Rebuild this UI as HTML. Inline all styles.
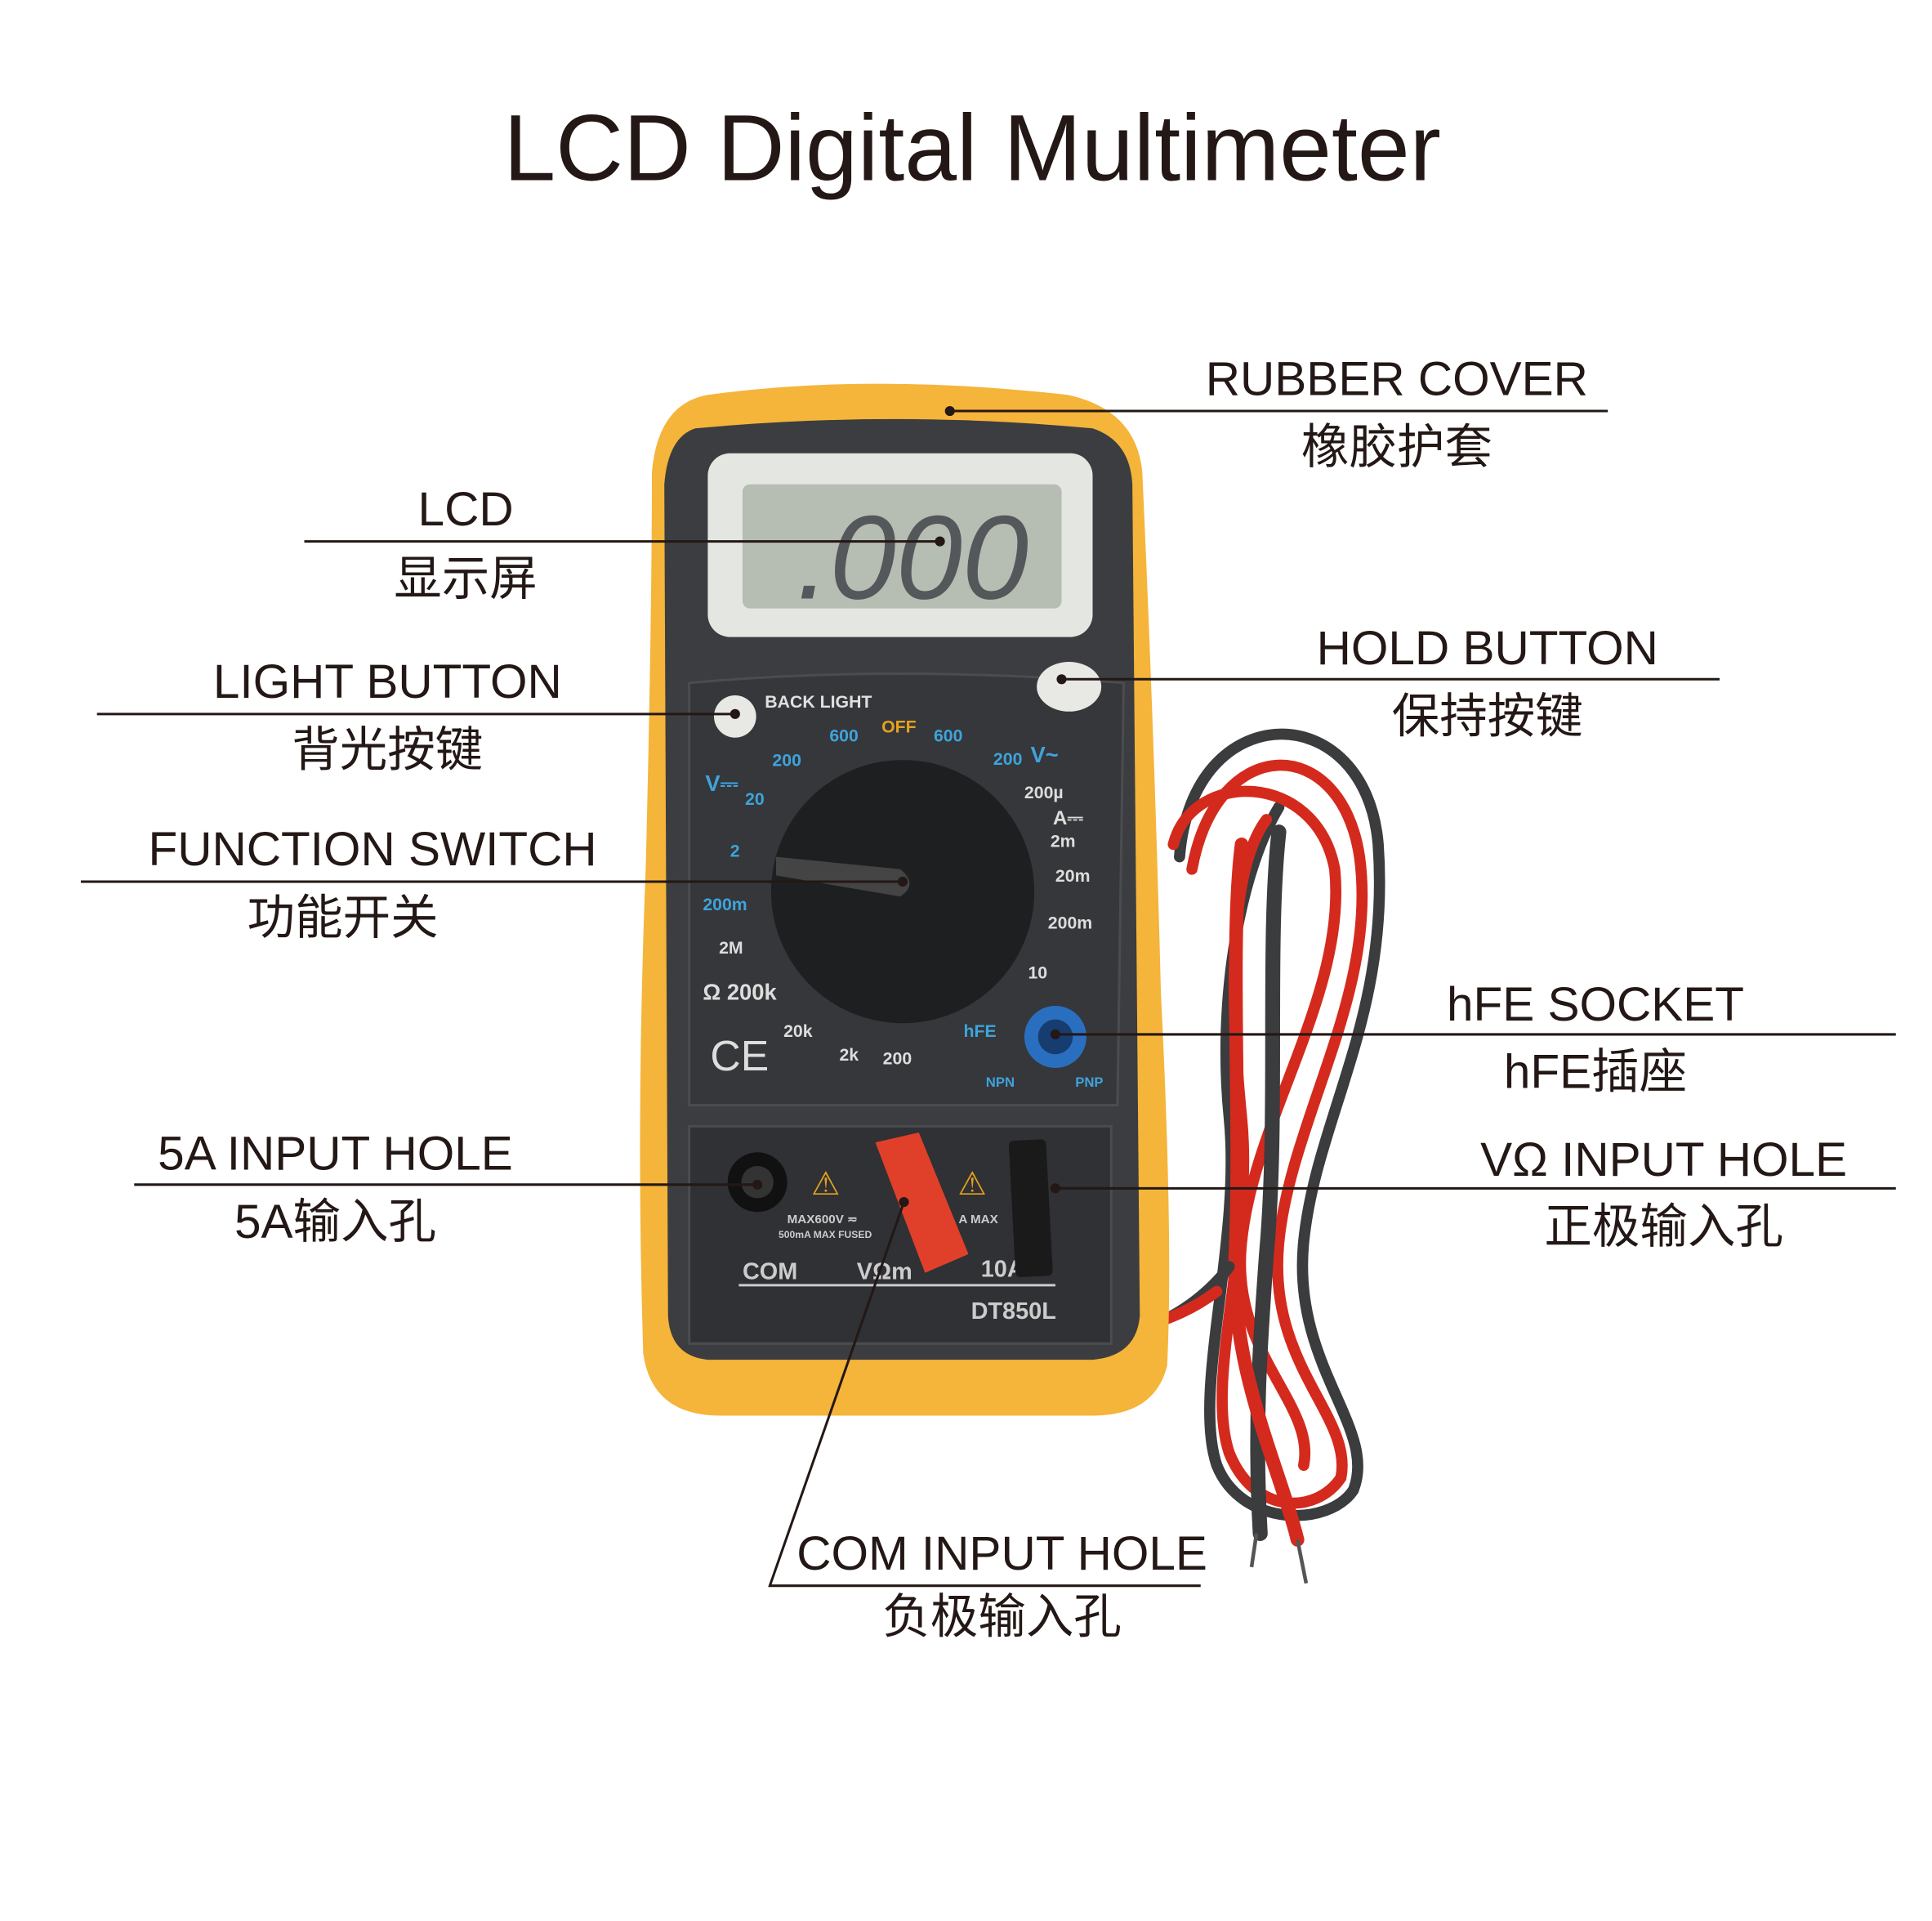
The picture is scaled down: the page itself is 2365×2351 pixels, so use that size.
<!DOCTYPE html>
<html><head><meta charset="utf-8">
<style>
html,body{margin:0;padding:0;background:#fff;}
svg{display:block;}
.t{font-family:"Liberation Sans","Noto Sans CJK SC",sans-serif;fill:#231815;}
</style></head>
<body>
<svg width="2365" height="2351" viewBox="0 0 1556 1547" xmlns="http://www.w3.org/2000/svg">
<rect width="1556" height="1547" fill="#fff"/>
<text class="t" x="783" y="145" font-size="75.5" text-anchor="middle">LCD Digital Multimeter</text>

<g fill="none" stroke-linecap="round">
<path d="M950 690 C 960 560, 1100 560, 1110 680 C 1120 820, 1060 900, 1050 1000 C 1040 1100, 1110 1150, 1090 1200 C 1070 1230, 1000 1230, 980 1180 C 960 1120, 1000 1000, 990 900 C 980 800, 1000 700, 1030 650" stroke="#3a3c3e" stroke-width="9"/>
<path d="M960 700 C 980 590, 1080 590, 1095 690 C 1110 800, 1040 900, 1030 1000 C 1020 1100, 1090 1140, 1080 1190 C 1060 1220, 1010 1220, 990 1170 C 970 1110, 1010 1000, 1000 900 C 990 800, 990 700, 1020 660" stroke="#d42a1e" stroke-width="9"/>
<path d="M945 680 C 960 620, 1060 620, 1075 700 C 1085 800, 1010 900, 1000 1000 C 990 1090, 1060 1130, 1050 1180" stroke="#d42a1e" stroke-width="9"/>
<path d="M1030 670 C 1020 760, 1030 900, 1020 1010 C 1015 1080, 1010 1150, 1015 1235" stroke="#3a3c3e" stroke-width="12"/>
<path d="M1000 680 C 990 760, 1000 900, 995 1010 C 990 1100, 1030 1180, 1045 1240" stroke="#d42a1e" stroke-width="11"/>
<path d="M850 1070 C 900 1090, 960 1060, 990 1020" stroke="#3a3c3e" stroke-width="9"/>
<path d="M740 990 C 760 1080, 900 1100, 980 1040" stroke="#d42a1e" stroke-width="9"/>
</g>
<line x1="1012" y1="1235" x2="1008" y2="1262" stroke="#555" stroke-width="3"/>
<line x1="1045" y1="1240" x2="1052" y2="1275" stroke="#555" stroke-width="3"/>

<path d="M570 318 Q 700 300 860 318 Q 915 330 920 380 Q 930 600 935 800 Q 945 1000 940 1100 Q 930 1140 880 1140 L 580 1140 Q 525 1140 518 1090 Q 512 900 520 700 Q 525 500 525 380 Q 530 325 570 318 Z" fill="#f5b43a"/>
<path d="M560 345 Q 720 330 880 345 Q 910 355 912 390 L 918 1060 Q 915 1092 880 1095 L 570 1095 Q 540 1092 538 1060 L 535 390 Q 538 352 560 345 Z" fill="#3b3d40"/>
<rect x="570" y="365" width="310" height="148" rx="18" fill="#e4e6e2"/>
<rect x="598" y="390" width="257" height="100" rx="6" fill="#b6bdb3"/>
<text x="735" y="482" font-family="Liberation Sans,sans-serif" font-size="96" fill="#55585a" text-anchor="middle" font-style="italic">.000</text>
<path d="M555 550 Q 720 535 905 550 L 900 890 L 555 890 Z" fill="#35373a" stroke="#4a4c4f" stroke-width="2"/>
<circle cx="592" cy="577" r="17" fill="#e8e8e4"/>
<ellipse cx="861" cy="553" rx="26" ry="20" fill="#e8e8e4"/>
<text x="616" y="570" font-family="Liberation Sans,sans-serif" font-size="14" font-weight="bold" fill="#e0e0e0">BACK LIGHT</text>
<circle cx="727" cy="718" r="106" fill="#1e1f21"/>
<path d="M625 690 L 725 700 Q 740 712 725 722 L 625 705 Z" fill="#444"/>
<g font-family="Liberation Sans,sans-serif" font-size="14" font-weight="bold" fill="#3fa3dc">
<text x="668" y="597">600</text><text x="710" y="590" fill="#e6a11e">OFF</text><text x="752" y="597">600</text>
<text x="622" y="617">200</text><text x="800" y="616">200</text><text x="830" y="614" font-size="18">V~</text>
<text x="568" y="637" font-size="18">V⎓</text><text x="600" y="648">20</text>
<text x="825" y="643" fill="#ddd">200µ</text><text x="848" y="664" fill="#ddd" font-size="16">A⎓</text>
<text x="846" y="682" fill="#ddd">2m</text><text x="588" y="690">2</text>
<text x="850" y="710" fill="#ddd">20m</text><text x="566" y="733">200m</text>
<text x="844" y="748" fill="#ddd">200m</text><text x="579" y="768" fill="#ddd">2M</text>
<text x="828" y="788" fill="#ddd">10</text><text x="566" y="805" fill="#ddd" font-size="18">Ω 200k</text>
<text x="631" y="835" fill="#ddd">20k</text><text x="676" y="854" fill="#ddd">2k</text>
<text x="711" y="857" fill="#ddd">200</text><text x="776" y="835">hFE</text>
<text x="794" y="875" font-size="11">NPN</text><text x="866" y="875" font-size="11">PNP</text>
</g>
<text x="572" y="862" font-family="Liberation Sans,sans-serif" font-size="34" fill="#ddd">CE</text>
<circle cx="850" cy="835" r="25" fill="#2a6fbf"/>
<circle cx="850" cy="835" r="14" fill="#173c70"/>
<rect x="555" y="907" width="340" height="175" fill="#2f3134" stroke="#4a4c4f" stroke-width="2"/>
<circle cx="610" cy="952" r="24" fill="#111"/>
<circle cx="610" cy="952" r="13" fill="#333"/>
<text x="665" y="962" font-size="26" fill="#e6a11e" text-anchor="middle">⚠</text>
<text x="783" y="962" font-size="26" fill="#e6a11e" text-anchor="middle">⚠</text>
<g font-family="Liberation Sans,sans-serif" font-weight="bold" fill="#ccc">
<text x="634" y="985" font-size="10">MAX600V ≂</text>
<text x="627" y="997" font-size="8">500mA MAX FUSED</text>
<text x="772" y="985" font-size="10">A MAX</text>
<text x="598" y="1030" font-size="19">COM</text>
<text x="690" y="1030" font-size="19">VΩm</text>
<text x="790" y="1028" font-size="19">10A</text>
<text x="782" y="1062" font-size="19">DT850L</text>
</g>
<line x1="595" y1="1035" x2="850" y2="1035" stroke="#ccc" stroke-width="2"/>
<rect x="815" y="918" width="30" height="110" rx="4" fill="#1a1a1a" transform="rotate(-3 830 970)"/>
<path d="M705 920 L 740 912 L 780 1010 L 745 1025 Z" fill="#e0402a"/>

<g stroke="#231815" stroke-width="2" fill="none">
<line x1="765" y1="331" x2="1295" y2="331"/>
<line x1="245" y1="436" x2="757" y2="436"/>
<line x1="855" y1="547" x2="1385" y2="547"/>
<line x1="78" y1="575" x2="592" y2="575"/>
<line x1="65" y1="710" x2="727" y2="710"/>
<line x1="850" y1="833" x2="1527" y2="833"/>
<line x1="108" y1="954" x2="610" y2="954"/>
<line x1="850" y1="957" x2="1527" y2="957"/>
<polyline points="728,968 620,1277 967,1277"/>
</g>
<g fill="#231815">
<circle cx="765" cy="331" r="4"/><circle cx="757" cy="436" r="4"/><circle cx="855" cy="547" r="4"/>
<circle cx="592" cy="575" r="4"/><circle cx="727" cy="710" r="4"/><circle cx="850" cy="833" r="4"/>
<circle cx="610" cy="954" r="4"/><circle cx="850" cy="957" r="4"/><circle cx="728" cy="968" r="4"/>
</g>
<g class="t" font-size="38.5" text-anchor="middle">
<text x="1125" y="318">RUBBER COVER</text><text x="1125" y="373">橡胶护套</text>
<text x="375" y="423">LCD</text><text x="375" y="479">显示屏</text>
<text x="1198" y="535">HOLD BUTTON</text><text x="1198" y="590">保持按键</text>
<text x="312" y="562">LIGHT BUTTON</text><text x="312" y="617">背光按键</text>
<text x="300" y="697">FUNCTION SWITCH</text><text x="276" y="752">功能开关</text>
<text x="1285" y="822">hFE SOCKET</text><text x="1285" y="876">hFE插座</text>
<text x="270" y="942">5A INPUT HOLE</text><text x="270" y="997">5A输入孔</text>
<text x="1340" y="947">VΩ INPUT HOLE</text><text x="1340" y="1001">正极输入孔</text>
<text x="807" y="1264">COM INPUT HOLE</text><text x="807" y="1315">负极输入孔</text>
</g>
</svg>
</body></html>
